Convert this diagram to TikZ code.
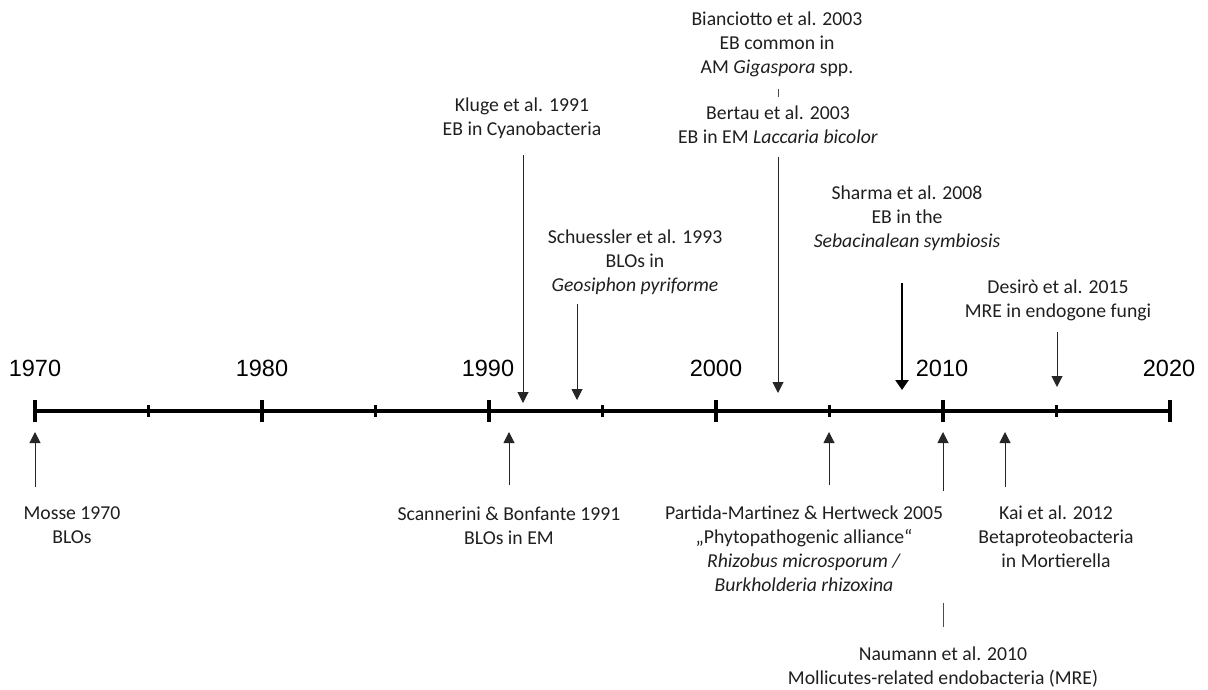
\documentclass[tikz,border=0pt]{standalone}
\usepackage{fontspec}
\setmainfont{Carlito}
\newfontfamily\arialf{Liberation Sans}
\usetikzlibrary{arrows.meta}
\tikzset{
  lbl/.style={anchor=north, inner sep=0pt, align=center, text=black!88, font=\fontsize{19.7}{24}\selectfont},
  yr/.style={anchor=base, inner sep=0pt, font=\arialf\fontsize{23.5}{28}\selectfont},
  axisline/.style={line width=4pt},
  majortick/.style={line width=4pt},
  minortick/.style={line width=3.5pt},
  evarrow/.style={draw=black!85, line width=1pt, -{Triangle[length=11pt,width=11pt]}},
  thickarrow/.style={draw=black, line width=2.4pt, -{Triangle[length=10pt,width=13pt]}},
  sep/.style={draw=black!70, line width=0.9pt}
}
\begin{document}
\begin{tikzpicture}[x=1pt,y=-1pt]
\useasboundingbox (0,0) rectangle (1208,690);
% axis
\draw[axisline] (35,411) -- (1170,411);
\foreach \x in {35,262,489,716,943,1170} \draw[majortick] (\x,400) -- (\x,422);
\foreach \x in {148.5,375.5,602.5,829.5,1056.5} \draw[minortick] (\x,405) -- (\x,417);
% year labels
\node[yr] (y1970) at (35,376) {1970};
\node[yr] (y1980) at (262,376) {1980};
\node[yr] (y1990) at (488,376) {1990};
\node[yr] (y2000) at (716,376) {2000};
\node[yr] (y2010) at (942,376) {2010};
\node[yr] (y2020) at (1169,376) {2020};
% labels above
\node[lbl] (bianc) at (777,8.7) {\strut Bianciotto et al. 2003\\EB common in\\AM \textit{Gigaspora} spp.};
\node[lbl] (bertau) at (778,102.7) {\strut Bertau et al. 2003\\EB in EM \textit{Laccaria bicolor}};
\node[lbl] (kluge) at (522,94.7) {\strut Kluge et al. 1991\\EB in Cyanobacteria};
\node[lbl] (schuess) at (635,226.7) {\strut Schuessler et al. 1993\\BLOs in\\\textit{Geosiphon pyriforme}};
\node[lbl] (sharma) at (907,182.7) {\strut Sharma et al. 2008\\EB in the\\\textit{Sebacinalean symbiosis}};
\node[lbl] (desiro) at (1058,276.7) {\strut Desirò et al. 2015\\MRE in endogone fungi};
% labels below
\node[lbl] (mosse) at (72,502.7) {\strut Mosse 1970\\BLOs};
\node[lbl] (scann) at (509,503.7) {\strut Scannerini \& Bonfante 1991\\BLOs in EM};
\node[lbl] (partida) at (804,502.7) {\strut Partida-Martinez \& Hertweck 2005\\„Phytopathogenic alliance“\\\textit{Rhizobus microsporum /}\\\textit{Burkholderia rhizoxina}};
\node[lbl] (kai) at (1056,502.7) {\strut Kai et al. 2012\\Betaproteobacteria\\in Mortierella};
\node[lbl] (naumann) at (943,643.5) {\strut Naumann et al. 2010\\Mollicutes-related endobacteria (MRE)};
% arrow coordinates
\coordinate (klugeS) at (523,155); \coordinate (klugeE) at (523,403);
\coordinate (schS) at (577,304); \coordinate (schE) at (577,400);
\coordinate (bertS) at (778,157); \coordinate (bertE) at (778,393);
\coordinate (shS) at (902,283); \coordinate (shE) at (902,390);
\coordinate (deS) at (1057,332); \coordinate (deE) at (1057,387);
\coordinate (moS) at (35,487); \coordinate (moE) at (35,432);
\coordinate (scS) at (509,485); \coordinate (scE) at (509,432);
\coordinate (paS) at (829,485); \coordinate (paE) at (829,432);
\coordinate (naS) at (943,491); \coordinate (naE) at (943,432);
\coordinate (kaS) at (1005,487); \coordinate (kaE) at (1005,432);
\coordinate (bsA) at (778,89); \coordinate (bsB) at (778,97);
\coordinate (nsA) at (943,603); \coordinate (nsB) at (943,627);
% arrows
\draw[evarrow] (klugeS) -- (klugeE);
\draw[evarrow] (schS) -- (schE);
\draw[evarrow] (bertS) -- (bertE);
\draw[thickarrow] (shS) -- (shE);
\draw[evarrow] (deS) -- (deE);
\draw[evarrow] (moS) -- (moE);
\draw[evarrow] (scS) -- (scE);
\draw[evarrow] (paS) -- (paE);
\draw[evarrow] (naS) -- (naE);
\draw[evarrow] (kaS) -- (kaE);
\draw[sep] (bsA) -- (bsB);
\draw[sep] (nsA) -- (nsB);
\end{tikzpicture}
\end{document}
